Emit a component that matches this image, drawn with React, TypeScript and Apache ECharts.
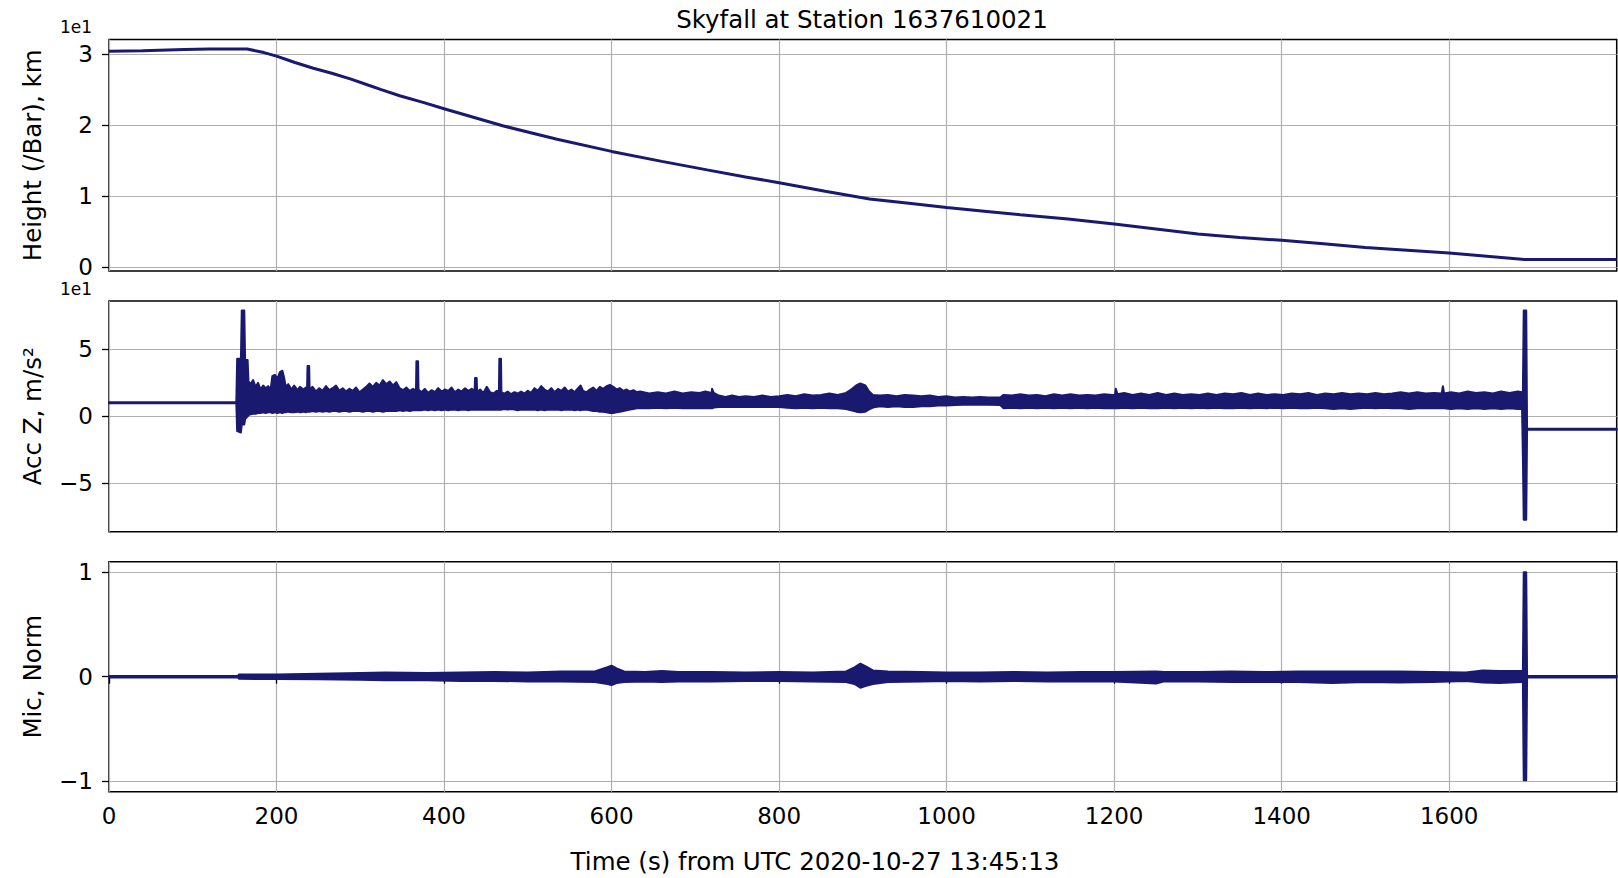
import React, { useEffect, useRef } from "react";
import * as echarts from "echarts";

const NAVY = "#191970";
const FONT = "DejaVu Sans";
const GRID_COLOR = "#b0b0b0";

const TITLE = "Skyfall at Station 1637610021";
const X_LABEL = "Time (s) from UTC 2020-10-27 13:45:13";
const Y_LABELS = ["Height (/Bar), km", "Acc Z, m/s²", "Mic, Norm"];

const X_TICKS = [0, 200, 400, 600, 800, 1000, 1200, 1400, 1600];
const HEIGHT_TICKS = [0, 10, 20, 30];
const ACC_TICKS = [-50, 0, 50];
const MIC_TICKS = [-1, 0, 1];

// Height: [time s, height km]
const heightSamples: number[][] = [
  [0, 30.4], [40, 30.45], [90, 30.65], [120, 30.7], [165, 30.7], [185, 30.2], [200, 29.7],
  [222, 28.8], [244, 28.0], [266, 27.3], [288, 26.5], [310, 25.6], [325, 25.0], [348, 24.1],
  [375, 23.2], [400, 22.3], [435, 21.1], [470, 19.9], [535, 18.0], [600, 16.3], [660, 14.9],
  [714, 13.7], [760, 12.7], [800, 11.9], [855, 10.7], [908, 9.6], [955, 9.0], [1000, 8.4],
  [1045, 7.9], [1088, 7.4], [1145, 6.8], [1200, 6.1], [1250, 5.4], [1300, 4.7], [1350, 4.2],
  [1400, 3.8], [1450, 3.3], [1500, 2.8], [1550, 2.4], [1600, 2.0], [1645, 1.55], [1690, 1.1],
  [1800, 1.1],
];

// Acceleration Z envelope: [time s, upper m/s^2, lower m/s^2]
const accSamples: number[][] = [
  [0, 10.5, 9.7], [152, 10.5, 9.7], [153, 43, -11], [157.5, 43, -12], [158.5, 79, -6], [161.5, 79, -6],
  [162.5, 42, -2], [165.5, 42, 0], [166.5, 26, 1], [169, 24, 1.5], [172, 27, 2], [175, 22, 2],
  [178, 25, 2.5], [181, 20, 2.5], [184, 23, 3], [187, 21, 2.5], [190, 22.5, 3], [193, 20, 3],
  [195, 30, 2.5], [198, 31, 3], [201, 28, 2.5], [204, 33, 3], [207, 34, 2.5], [209, 29, 3],
  [211, 22, 3], [214, 24, 3.5], [218, 20, 3], [221, 23, 3], [225, 19.5, 3.5], [228, 22, 3],
  [232, 20, 3.5], [235, 21.5, 3], [236.5, 21, 3.5], [237, 37.5, 3.5], [239, 37.5, 3.5], [239.5, 20, 3.5],
  [243, 22, 4], [247, 18.5, 3.5], [251, 21, 4], [255, 19, 3.5], [259, 22.5, 4], [263, 19.5, 3.5],
  [267, 21, 4], [271, 23, 4], [275, 19, 3.5], [279, 21, 4], [283, 18.5, 4], [287, 20.5, 3.5],
  [291, 19, 4], [295, 21.5, 4], [299, 18, 4], [303, 20, 3.5], [307, 22, 4], [311, 24.5, 4],
  [315, 22, 3.5], [319, 25, 4], [323, 23, 4], [327, 27, 3.5], [331, 24, 4], [335, 26, 4],
  [339, 23, 4], [343, 25.5, 4], [347, 21, 4.5], [351, 19.5, 4], [355, 21.5, 4.5], [359, 19, 4],
  [363, 20.5, 4.5], [366.5, 19, 4.5], [367, 41, 4.5], [369, 41, 4.5], [369.5, 20, 4.5], [373, 18, 4.5],
  [377, 20.5, 5], [381, 17.5, 4.5], [385, 19.5, 5], [389, 18, 4.5], [393, 21, 5], [397, 18.5, 4.5],
  [401, 20, 5], [405, 19, 4.5], [409, 21.5, 5], [413, 18, 5], [417, 20, 4.5], [421, 18.5, 5],
  [425, 21, 5], [429, 19, 4.5], [433, 20.5, 5], [436.5, 19, 5], [437, 28.5, 5], [439, 28.5, 5],
  [439.5, 18, 5], [443, 20, 5], [447, 17.5, 5], [451, 22, 5], [455, 18, 5], [459, 17, 5],
  [463, 19, 5], [465.5, 18, 5], [466, 43, 5], [468, 43, 5], [468.5, 18, 5], [472, 17, 5.5],
  [476, 18.5, 5], [480, 16.5, 5.5], [484, 18, 5], [488, 17, 4.5], [492, 18.5, 5], [496, 17, 5],
  [500, 19, 5], [504, 17.5, 5], [508, 21, 5], [512, 19, 4.5], [516, 22.5, 5], [520, 20, 4.5],
  [524, 18.5, 5], [528, 21, 5], [532, 18, 5], [536, 20.5, 5], [540, 19, 4.5], [544, 21.5, 5],
  [548, 18.5, 5], [552, 20, 5], [556, 18, 4.5], [560, 21, 5], [563, 23, 4.5], [566, 19, 5],
  [570, 18, 5], [574, 20, 4.5], [578, 21.5, 4], [582, 19, 4], [586, 22, 3.5], [590, 20.5, 3.5],
  [594, 22.5, 3], [598, 23.5, 2.5], [602, 22, 2.5], [606, 20, 3], [610, 21, 3.5], [614, 19, 4],
  [618, 20, 4.5], [622, 18.5, 5], [626, 19.5, 5.5], [630, 18, 6], [634, 18.5, 6], [645, 17, 6],
  [655, 18, 6.5], [665, 17, 6], [675, 18.5, 6.5], [685, 17, 6], [695, 18, 6], [705, 17.5, 6],
  [712, 18.5, 6], [719.5, 17.5, 6], [720, 20.5, 6], [722, 17.5, 6.5], [728, 15.5, 7], [736, 14.5, 7],
  [744, 15.5, 7], [752, 14.5, 7], [760, 15, 7], [770, 14.5, 7], [780, 15.5, 7], [790, 14.5, 7],
  [800, 15, 7], [810, 16, 6.5], [820, 15, 6], [830, 16.5, 6.5], [840, 15.5, 6], [850, 16, 6.5],
  [860, 17, 6], [870, 16, 6], [880, 17.5, 5.5], [886, 20, 4.5], [892, 23, 3.5], [897, 24.5, 3],
  [903, 23, 3.5], [907, 19, 5], [912, 16, 6.5], [920, 15.5, 7.5], [930, 16, 7], [940, 15, 7.5],
  [950, 16, 7], [960, 15.5, 7], [970, 15, 7.5], [980, 15.5, 7.5], [990, 14.5, 8], [1000, 15, 8],
  [1010, 14, 8.5], [1020, 14.5, 8.7], [1030, 14, 8.7], [1040, 14.5, 8.7], [1050, 14, 8.7], [1064, 14, 8.5],
  [1068, 16, 6], [1078, 15.5, 6.5], [1088, 16.5, 6], [1098, 15.5, 6.5], [1108, 16, 6], [1118, 15, 6.5],
  [1128, 16.5, 6], [1138, 15.5, 6.5], [1148, 16.5, 6], [1158, 15.5, 6.5], [1168, 16, 6], [1178, 15.5, 6.5],
  [1188, 16.5, 6], [1198, 16, 6], [1201, 16, 6], [1202, 20.5, 6], [1204, 16.5, 6], [1212, 17.5, 6.5],
  [1222, 16, 6], [1232, 17, 6.5], [1242, 16, 6], [1252, 17.5, 6], [1262, 16, 6.5], [1272, 17, 6],
  [1282, 16, 6.5], [1292, 16.5, 6], [1302, 16, 6.5], [1312, 17, 6], [1322, 16, 6.5], [1332, 17, 6],
  [1342, 16.5, 6], [1352, 17.5, 6.5], [1362, 16, 6], [1372, 17, 6.5], [1382, 16, 6], [1392, 16.5, 6.5],
  [1402, 16, 6], [1412, 17, 6.5], [1422, 16.5, 6], [1432, 17.5, 6], [1442, 16, 6.5], [1452, 17, 6],
  [1462, 16.5, 5.5], [1472, 17.5, 6], [1482, 16.5, 5.5], [1492, 17, 6], [1502, 16.5, 6.5], [1512, 17.5, 6],
  [1522, 16.5, 6.5], [1532, 17, 6], [1542, 18, 6], [1552, 17, 5.5], [1562, 18, 6], [1572, 17, 6],
  [1582, 17.5, 6], [1591, 17, 6], [1592.5, 22.5, 6], [1594, 17, 6], [1602, 18, 5.5], [1612, 17, 6],
  [1622, 18.5, 5.5], [1632, 17.5, 6], [1642, 18, 5.5], [1652, 17, 6], [1662, 18.5, 5.5], [1672, 17.5, 6],
  [1682, 18.5, 5.5], [1687, 18, 5.5], [1688, 18, -30], [1689, 79, -77], [1692, 79, -77], [1693, -9.3, -10.0],
  [1800, -9.3, -10.0],
];

// Microphone envelope: [time s, upper, lower] (normalized)
const micSamples: number[][] = [
  [0, 0.007, -0.007], [154, 0.007, -0.007], [155, 0.02, -0.02], [200, 0.022, -0.022], [250, 0.028, -0.025],
  [300, 0.035, -0.03], [330, 0.04, -0.035], [380, 0.035, -0.035], [420, 0.04, -0.04], [460, 0.045, -0.04],
  [500, 0.04, -0.045], [540, 0.05, -0.045], [580, 0.05, -0.05], [595, 0.09, -0.07], [600, 0.105, -0.08],
  [606, 0.08, -0.06], [615, 0.05, -0.05], [640, 0.045, -0.045], [660, 0.055, -0.05], [680, 0.045, -0.045],
  [720, 0.045, -0.045], [760, 0.04, -0.04], [800, 0.045, -0.04], [840, 0.04, -0.045], [880, 0.05, -0.05],
  [890, 0.09, -0.07], [897, 0.125, -0.105], [903, 0.1, -0.09], [912, 0.06, -0.07], [930, 0.05, -0.05],
  [970, 0.045, -0.045], [1000, 0.04, -0.04], [1040, 0.04, -0.045], [1080, 0.045, -0.04], [1120, 0.04, -0.045],
  [1160, 0.045, -0.045], [1200, 0.045, -0.045], [1250, 0.05, -0.065], [1260, 0.045, -0.045], [1300, 0.045, -0.045],
  [1340, 0.05, -0.05], [1380, 0.045, -0.05], [1420, 0.05, -0.05], [1460, 0.05, -0.06], [1500, 0.05, -0.05],
  [1540, 0.05, -0.055], [1580, 0.045, -0.05], [1620, 0.04, -0.04], [1640, 0.06, -0.055], [1660, 0.055, -0.06],
  [1686, 0.055, -0.05], [1688, 0.05, -0.05], [1689, 1.0, -0.99], [1692, 1.0, -0.99], [1693, 0.007, -0.007],
  [1800, 0.007, -0.007],
];

const minusFmt = (v: number, div: number) => {
  const r = Math.round((v / div) * 1000) / 1000;
  return r < 0 ? "\u2212" + String(-r) : String(r);
};

function bandSeries(idx: number, rows: number[][]) {
  return {
    type: "custom",
    xAxisIndex: idx,
    yAxisIndex: idx,
    data: [[0, 0]],
    silent: true,
    renderItem: (_params: any, api: any) => {
      const pts: number[][] = [];
      for (let i = 0; i < rows.length; i++) pts.push(api.coord([rows[i][0], rows[i][1]]));
      for (let i = rows.length - 1; i >= 0; i--) pts.push(api.coord([rows[i][0], rows[i][2]]));
      return {
        type: "polygon",
        shape: { points: pts },
        style: { fill: NAVY, stroke: NAVY, lineWidth: 2, lineJoin: "round" },
      };
    },
  };
}

export default function App() {
  const ref = useRef<HTMLDivElement>(null);
  useEffect(() => {
    if (!ref.current) return;
    const chart = echarts.init(ref.current, null, { renderer: "svg" });
    const gridBase = {
      left: 109,
      right: 1.3,
      show: true,
      borderColor: "#000",
      borderWidth: 1.5,
      backgroundColor: "transparent",
      containLabel: false,
      outerBoundsMode: "none",
    };
    const grids = [
      { ...gridBase, top: 39.5, height: 231.5 },
      { ...gridBase, top: 301, height: 230.7 },
      { ...gridBase, top: 561.7, height: 230 },
    ];
    const xAxes = [0, 1, 2].map((i) => ({
      type: "value",
      gridIndex: i,
      min: 0,
      max: 1800,
      axisLine: { show: false },
      axisTick: {
        show: i === 2,
        customValues: X_TICKS,
        length: 7,
        lineStyle: { color: "#000", width: 1.3 },
      },
      axisLabel: {
        show: i === 2,
        customValues: X_TICKS,
        fontFamily: FONT,
        fontSize: 23,
        color: "#000",
        margin: 13,
        formatter: (v: number) => String(v),
      },
      splitLine: { show: true, lineStyle: { color: GRID_COLOR, width: 1.2 } },
    }));
    const yDefs = [
      { min: -0.52, max: 32.04, ticks: HEIGHT_TICKS, div: 10 },
      { min: -86, max: 86, ticks: ACC_TICKS, div: 10 },
      { min: -1.1, max: 1.1, ticks: MIC_TICKS, div: 1 },
    ];
    const yAxes = yDefs.map((d, i) => ({
      type: "value",
      gridIndex: i,
      min: d.min,
      max: d.max,
      axisLine: { show: false },
      axisTick: {
        show: true,
        customValues: d.ticks,
        length: 7,
        lineStyle: { color: "#000", width: 1.3 },
      },
      axisLabel: {
        customValues: d.ticks,
        fontFamily: FONT,
        fontSize: 23,
        color: "#000",
        margin: 16,
        formatter: (v: number) => minusFmt(v, d.div),
      },
      splitLine: { show: true, lineStyle: { color: GRID_COLOR, width: 1.2 } },
    }));
    const textStyle = (text: string, size: number) => ({
      text,
      fontFamily: FONT,
      fontSize: size,
      fill: "#000",
      align: "center",
      verticalAlign: "middle",
    });
    const yCenters = [155.3, 416.3, 676.7];
    const graphic: any[] = [
      { type: "text", x: 862, y: 19, style: textStyle(TITLE, 24.5) },
      { type: "text", x: 815, y: 861, style: textStyle(X_LABEL, 24.5) },
      { type: "text", x: 76, y: 27, style: textStyle("1e1", 17) },
      { type: "text", x: 76, y: 289, style: textStyle("1e1", 17) },
      ...Y_LABELS.map((t, i) => ({
        type: "text",
        x: 32,
        y: yCenters[i],
        rotation: Math.PI / 2,
        style: textStyle(t, 24.5),
      })),
    ];
    chart.setOption({
      animation: false,
      backgroundColor: "#fff",
      grid: grids,
      xAxis: xAxes,
      yAxis: yAxes,
      graphic,
      series: [
        {
          type: "line",
          xAxisIndex: 0,
          yAxisIndex: 0,
          data: heightSamples,
          showSymbol: false,
          symbol: "none",
          lineStyle: { color: NAVY, width: 3 },
          itemStyle: { color: NAVY },
          silent: true,
        },
        bandSeries(1, accSamples),
        bandSeries(2, micSamples),
      ],
    });
    return () => chart.dispose();
  }, []);
  return (
    <div
      ref={ref}
      style={{ position: "fixed", left: 0, top: 0, width: 1618, height: 878, background: "#fff" }}
    />
  );
}
